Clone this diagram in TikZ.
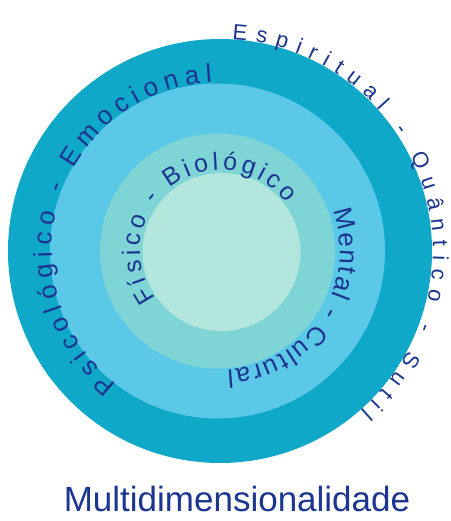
\documentclass[tikz,border=0pt]{standalone}
\usepackage{fontspec}
\setmainfont{Liberation Sans}
\usetikzlibrary{decorations.text}
\definecolor{ringA}{HTML}{10A8C8}
\definecolor{ringB}{HTML}{5CC8E7}
\definecolor{ringC}{HTML}{7FD4D6}
\definecolor{ringD}{HTML}{B3E6DC}
\definecolor{navy}{HTML}{1C3590}
\tikzset{
	arc text/.style={decorate, decoration={text along path, text align={fit to path}, text color=navy, text={#1}}}
}
\begin{document}
\begin{tikzpicture}[x=1pt,y=1pt]
		\useasboundingbox (-221,-270) rectangle (229,251);
		\fill[ringA] (-1,0) circle (212);
		\fill[ringB] (-3.5,0) circle (167.5);
		\fill[ringC] (-3.5,0) circle (117.5);
		\fill[ringD] (0.5,-1) circle (79);
		\path[arc text={|\fontsize{22}{22}\selectfont|Espiritual - Quântico - Sutil}] (87:212) arc[start angle=87, end angle=-49, radius=212];
		\path[arc text={|\fontsize{26}{26}\selectfont|Psicológico - Emocional}] (232:169) arc[start angle=232, end angle=93, radius=169];
		\path[arc text={|\fontsize{26}{26}\selectfont|Mental - Cultural}] (20:119) arc[start angle=20, end angle=-87, radius=119];
		\path[arc text={|\fontsize{25}{25}\selectfont|Físico - Biológico}] (216:81) arc[start angle=216, end angle=36, radius=81];
		\node[anchor=base, text=navy, font=\fontsize{35}{35}\selectfont, inner sep=0] (title) at (16,-260) {Multidimensionalidade};
	\end{tikzpicture}
\end{document}
